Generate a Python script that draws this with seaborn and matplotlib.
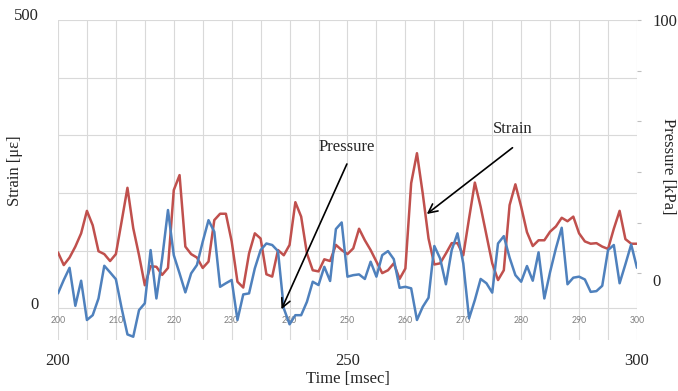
import matplotlib
matplotlib.use("Agg")
import matplotlib.pyplot as plt
import matplotlib.transforms as mtransforms
import seaborn as sns

# time axis [msec]
time = list(range(200, 301))

# strain [με], left axis
strain = [97, 75, 88, 107, 130, 169, 144, 99, 94, 82,
          94, 151, 209, 139, 92, 40, 73, 72, 58, 70,
          205, 231, 107, 94, 88, 70, 81, 153, 164, 164,
          116, 46, 36, 95, 130, 121, 59, 55, 101, 92,
          110, 184, 159, 95, 66, 64, 85, 82, 110, 101,
          94, 104, 138, 118, 101, 81, 61, 66, 78, 51,
          69, 217, 269, 199, 121, 76, 78, 95, 113, 113,
          92, 156, 218, 176, 127, 78, 49, 66, 179, 215,
          176, 132, 108, 118, 118, 133, 142, 157, 151, 159,
          130, 116, 112, 113, 107, 103, 138, 169, 120, 112,
          112]

# pressure [kPa], right axis
pressure = [-7.9, -2.6, 2.2, -12.8, -2.9, -18.4, -16.5, -9.9, 3.0, 0.4,
            -2.3, -13.8, -24.1, -25.0, -14.5, -11.8, 9.2, -9.9, 6.0, 25.0,
            7.2, 0.0, -7.5, 0.0, 3.3, 12.5, 21.0, 16.4, -5.3, -3.9,
            -2.6, -18.4, -8.3, -7.9, 2.0, 9.2, 11.8, 11.2, 8.8, -13.8,
            -20.1, -16.5, -16.5, -11.2, -3.3, -4.6, 2.6, -3.0, 17.5, 20.1,
            -1.3, -0.7, -0.4, -2.2, 4.6, -1.3, 7.2, 8.8, 5.6, -5.7,
            -5.3, -5.9, -18.4, -13.2, -9.6, 10.8, 5.9, -4.3, 9.2, 15.8,
            3.9, -17.8, -10.5, -2.2, -3.9, -7.6, 11.8, 14.7, 6.2, -0.7,
            -3.3, 2.9, -2.9, 8.3, -9.9, 0.6, 9.9, 18.0, -4.3, -1.7,
            -1.3, -2.4, -7.3, -7.0, -4.9, 9.2, 11.2, -3.9, 3.6, 11.4,
            2.2]

inner_ticks = list(range(200, 301, 10))

RED = "#C0504D"
BLUE = "#4F81BD"
GRID = "#D9D9D9"

sns.set_style("white")
plt.rcParams['font.family'] = ['Liberation Serif', 'DejaVu Serif']
plt.rcParams['font.size'] = 12

fig = plt.figure(figsize=(6.78, 3.91), dpi=100)
ax = fig.add_axes([0.0855, 0.1304, 0.854, 0.8184])
ax2 = ax.twinx()

sns.lineplot(x=time, y=strain, ax=ax, color=RED, lw=1.8)
sns.lineplot(x=time, y=pressure, ax=ax2, color=BLUE, lw=1.8)

ax.set_xlim(200, 300)
ax.set_ylim(-55, 500)
ax2.set_ylim(-26.3, 100)

# grid
ax.set_xticks([200, 250, 300])
ax.set_xticks(range(200, 301, 5), minor=True)
ax.set_yticks(range(0, 501, 100))
ax.set_yticklabels(['0', '', '', '', '', '500'])
ax.grid(True, which='both', axis='x', color=GRID, lw=0.8)
ax.grid(True, which='major', axis='y', color=GRID, lw=0.8)
ax.set_axisbelow(True)
ax.tick_params(which='both', length=0)
ax.tick_params(axis='x', pad=9, labelsize=12)
ax.tick_params(axis='y', pad=14, labelsize=12)

ax2.set_yticks(range(0, 101, 20))
ax2.set_yticklabels(['0', '', '', '', '', '100'])
ax2.tick_params(axis='y', length=3, color='#BFBFBF', pad=8, labelsize=12)

# nudge the tick labels a little, as in the original
for lab in ax.get_yticklabels():
    lab.set_transform(lab.get_transform() +
                      mtransforms.ScaledTranslation(0, 4 / 72, fig.dpi_scale_trans))
r0 = ax2.get_yticklabels()[0]
r0.set_transform(r0.get_transform() +
                 mtransforms.ScaledTranslation(0, -5 / 72, fig.dpi_scale_trans))

for a in (ax, ax2):
    for s in a.spines.values():
        s.set_visible(False)

# small inner labels (original chart axis)
for t in inner_ticks:
    ax.text(t, -22, str(t), ha='center', va='center', fontsize=6.3,
            color='#7F7F7F', family='Lato')

ax.set_xlabel('Time [msec]', fontsize=12, labelpad=2)
ax.set_ylabel('Strain [με]', fontsize=12, va='center', ha='center')
ax.yaxis.set_label_coords(-0.0745, 0.528)
ax2.set_ylabel('Pressure [kPa]', fontsize=12, rotation=270, va='center', ha='center')
ax2.yaxis.set_label_coords(1.0535, 0.542)

# annotations
arrow = dict(arrowstyle='->', color='black', lw=1.2, mutation_scale=16,
             shrinkA=0, shrinkB=0)
ax2.annotate('', xy=(238.6, -1.7), xycoords=ax.transData,
             xytext=(249.9, 250.3), textcoords=ax.transData, arrowprops=arrow)
ax2.text(249.9, 279.7, 'Pressure', transform=ax.transData,
         ha='center', va='center', fontsize=12)
ax2.annotate('', xy=(263.7, 163.5), xycoords=ax.transData,
             xytext=(278.5, 278.5), textcoords=ax.transData, arrowprops=arrow)
ax2.text(278.6, 311, 'Strain', transform=ax.transData,
         ha='center', va='center', fontsize=12)

fig.savefig('out.png', dpi=100)
